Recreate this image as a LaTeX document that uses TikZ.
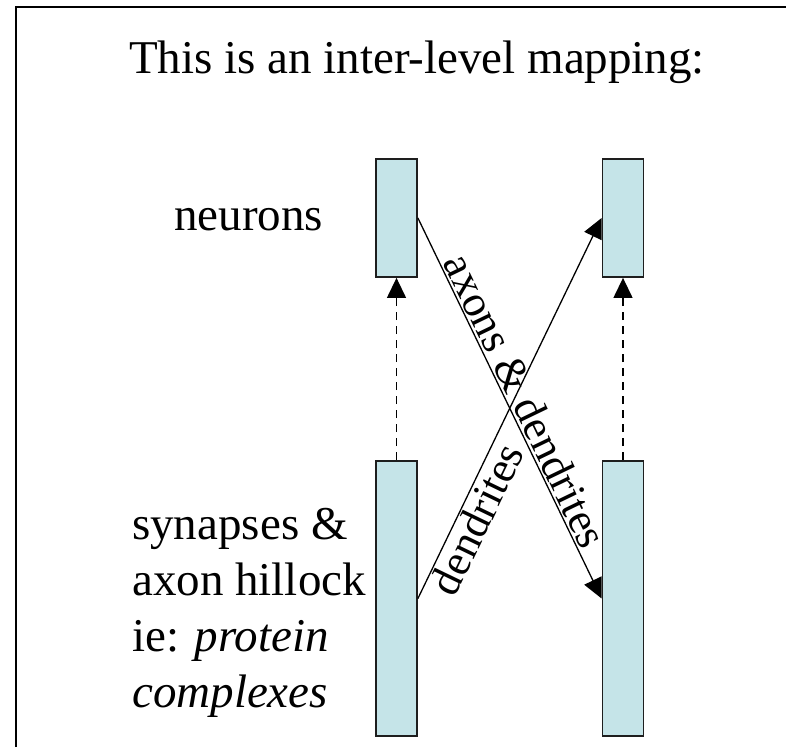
\documentclass[tikz,border=0pt]{standalone}
\usepackage{fontspec}
\setmainfont{Liberation Serif}
\usepackage{tikz}
\usetikzlibrary{arrows.meta, positioning}
\definecolor{barfill}{RGB}{197,228,232}
\definecolor{barline}{RGB}{30,30,30}

\begin{document}
\begin{tikzpicture}[
			x=1pt, y=-1pt,
			every node/.style={font=\fontsize{47}{56}\selectfont},
			bar/.style={draw=barline, line width=1.8pt, fill=barfill, minimum width=41pt, inner sep=0pt},
			shortbar/.style={bar, minimum height=118pt},
			longbar/.style={bar, minimum height=275pt},
			maparrow/.style={-{Triangle[length=20pt, width=19pt]}, line width=1.3pt},
			levelarrow/.style={maparrow, dash pattern=on 8pt off 6pt},
			arrowlabel/.style={sloped, inner sep=2pt, font=\fontsize{44}{52}\selectfont}
		]
		\useasboundingbox (0,0) rectangle (786,747);
		% frame
		\draw[line width=1.8pt] (16,747) -- (16,7) -- (786,7);
		\node (title) at (417,62) {This is an inter-level mapping:};
		% bars
		\node[shortbar] (nl) at (396.5,218) {};
		\node[shortbar] (nr) at (623,218) {};
		\node[longbar] (sl) at (396.5,598.5) {};
		\node[longbar] (sr) at (623,598.5) {};
		% labels
		\node[anchor=west, inner sep=0pt] (neurons) at (174,220) {neurons};
		\node[anchor=west, align=left, inner sep=0pt] (synapses) at (132,613) {synapses \&\\axon hillock\\ie: \textit{protein}\\\textit{complexes}};
		% arrows
		\draw[levelarrow] (sl.north) -- (nl.south);
		\draw[levelarrow] (sr.north) -- (nr.south);
		\draw[maparrow] (nl.east) -- node[pos=0.5, above, arrowlabel] {axons \& dendrites} (sr.west);
		\draw[maparrow] (sl.east) -- node[pos=0.23, below, arrowlabel] {dendrites} (nr.west);
	\end{tikzpicture}
\end{document}
